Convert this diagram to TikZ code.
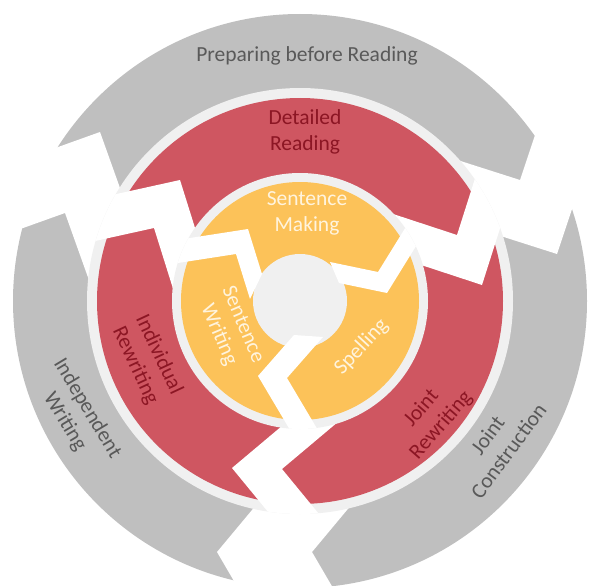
\documentclass[tikz,border=0pt]{standalone}
\usepackage{fontspec}
\setmainfont{Carlito}
\definecolor{graycol}{RGB}{191,191,191}
\definecolor{bandcol}{RGB}{240,240,240}
\definecolor{redcol}{RGB}{207,86,97}
\definecolor{yelcol}{RGB}{252,194,89}
\definecolor{tgray}{RGB}{89,89,89}
\definecolor{tred}{RGB}{140,22,36}
\definecolor{tyel}{RGB}{255,244,222}
\begin{document}
\begin{tikzpicture}[x=1pt,y=-1pt,
  lbl/.style={font=\fontsize{21.5}{26}\selectfont, align=center, inner sep=0pt},
  lblgray/.style={lbl, text=tgray},
  lblred/.style={lbl, text=tred},
  lblyel/.style={lbl, text=tyel},
  cut/.style={fill=white}]
\useasboundingbox (0,0) rectangle (592,586);
\coordinate (O) at (300,301);
% outer gray ring
\fill[graycol] (O) circle[radius=287pt];
\fill[cut] (542,114)--(520,180)--(448,157)--(485,231)--(557,254)--(579,188)--cycle;
\fill[cut] (33,156)--(100,132)--(125,202)--(90,283)--(65,213)--(-2,237)--cycle;
\fill[cut] (340,600)--(312,552)--(357,498)--(262,498)--(217,552)--(245,600)--cycle;
% red ring
\fill[bandcol] (O) circle[radius=213pt];
\fill[redcol] (O) circle[radius=203pt];
\begin{scope}
  \clip (O) circle[radius=213pt];
  \fill[cut] (478,169)--(457,235)--(384,211)--(409,261)--(482,285)--(503,219)--cycle;
  \fill[cut] (103,197)--(180,180)--(201,247)--(175,295)--(154,228)--(77,245)--cycle;
  \fill[cut] (278,524)--(232,468)--(295,415)--(345,416)--(282,469)--(328,525)--cycle;
\end{scope}
% yellow ring
\fill[bandcol] (O) circle[radius=128pt];
\fill[yelcol] (O) circle[radius=119pt];
\fill[bandcol] (O) circle[radius=47pt];
\begin{scope}
  \clip (O) circle[radius=128pt];
  \fill[cut] (177,240)--(248,229)--(262,274)--(250,299)--(236,254)--(165,265)--cycle;
  \fill[cut] (412,217)--(378,272)--(330,262)--(339,283)--(387,293)--(421,238)--cycle;
  \fill[cut] (322,437)--(287,378)--(323,337)--(294,335)--(258,376)--(293,435)--cycle;
\end{scope}
% labels
\node[lblgray] (prep) at (307,56) {Preparing before Reading};
\node[lblred] (detail) at (305,132) {Detailed\\Reading};
\node[lblyel] (smak) at (307,213) {Sentence\\Making};
\node[lblyel, rotate=-67] (swri) at (230.5,330) {Sentence\\Writing};
\node[lblyel, rotate=47] (spell) at (361.5,347) {Spelling};
\node[lblred, rotate=-65] (indiv) at (147,360) {Individual\\Rewriting};
\node[lblred, rotate=49] (jrew) at (431.5,417) {Joint\\Rewriting};
\node[lblgray, rotate=-59] (indep) at (76,415) {Independent\\Writing};
\node[lblgray, rotate=53.5] (jcon) at (498,443) {Joint\\Construction};
\end{tikzpicture}
\end{document}
